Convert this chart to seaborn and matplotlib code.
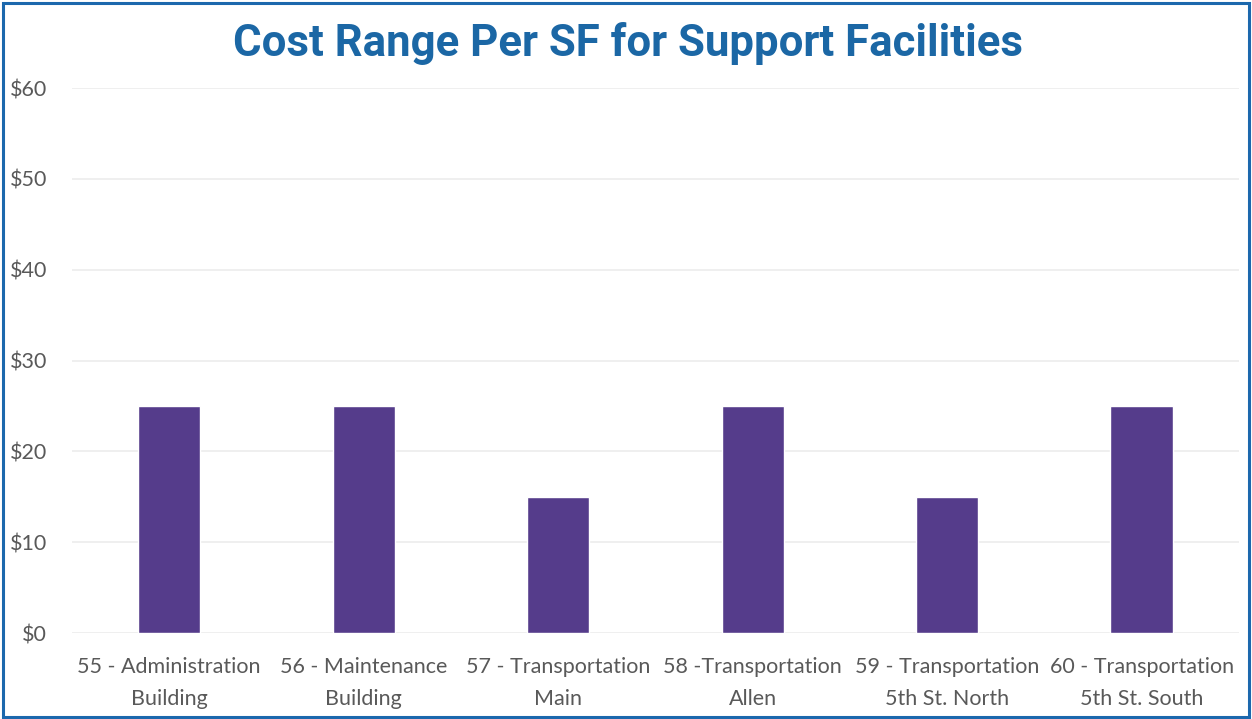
import matplotlib
matplotlib.use("Agg")
import matplotlib.pyplot as plt
import seaborn as sns
import pandas as pd
from matplotlib.patches import Rectangle

facilities = ["55 - Administration\nBuilding", "56 - Maintenance\nBuilding",
              "57 - Transportation\nMain", "58 -Transportation\nAllen",
              "59 - Transportation\n5th St. North", "60 - Transportation\n5th St. South"]
cost_per_sf = [25, 25, 15, 25, 15, 25]
y_ticks = [0, 10, 20, 30, 40, 50, 60]

df = pd.DataFrame({"Facility": facilities, "Cost": cost_per_sf})

sns.set_style("white")
plt.rcParams['font.family'] = ['Lato', 'DejaVu Sans']

fig = plt.figure(figsize=(12.52, 7.19), dpi=100)
ax = fig.add_axes([0.0575, 0.1196, 0.932, 0.758])

sns.barplot(data=df, x="Facility", y="Cost", color="#553c8b", width=0.32,
            saturation=1, ax=ax, zorder=3)

ax.set_ylim(0, 60)
ax.set_yticks(y_ticks)
ax.set_yticklabels([f"${v}" for v in y_ticks])
ax.set_xlim(-0.5, len(facilities) - 0.5)
ax.grid(axis="y", color="#ececec", linewidth=1.2, zorder=0)
ax.set_axisbelow(True)
for s in ax.spines.values():
    s.set_visible(False)
ax.set_xlabel("")
ax.set_ylabel("")
ax.tick_params(axis="both", length=0, labelsize=15.5, labelcolor="#595959")
ax.tick_params(axis="y", pad=18)
ax.tick_params(axis="x", pad=17)
for lbl in ax.get_xticklabels():
    lbl.set_linespacing(1.8)

fig.text(0.5015, 0.940, "Cost Range Per SF for Support Facilities", ha="center", va="center",
         fontsize=31.5, fontweight="bold", color="#1b67a5", family=["Roboto", "DejaVu Sans"])

fig.patches.append(Rectangle((0.002, 0.003), 0.996, 0.993, transform=fig.transFigure,
                             fill=False, edgecolor="#1c68ad", linewidth=2.2))

fig.savefig("out.png", dpi=100)
